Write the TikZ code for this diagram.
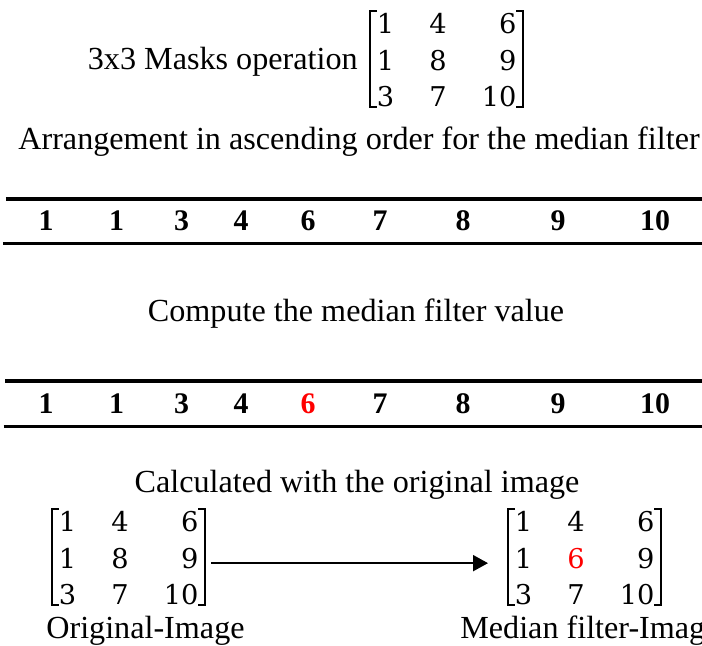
\documentclass[tikz,border=0pt]{standalone}
\usepackage{fontspec}
\setmainfont{Liberation Serif}
\newfontfamily\matfont{DejaVu Serif}
\usepackage{tikz}
\usetikzlibrary{arrows.meta}

% 3x3 pixel block, last column flush right
\newcommand{\pixtab}[3]{\begin{tabular}[b]{@{}lcr@{}}#1\\#2\\#3\end{tabular}}
\setlength{\tabcolsep}{10pt}
% square brackets round a block node
\newcommand{\brackets}[1]{%
  \draw[brk] ([xshift=0.14cm]#1.north west) -- (#1.north west) -- (#1.south west) -- ([xshift=0.14cm]#1.south west);
  \draw[brk] ([xshift=-0.14cm]#1.north east) -- (#1.north east) -- (#1.south east) -- ([xshift=-0.14cm]#1.south east);}

\tikzset{
  num/.style={anchor=base, font=\fontsize{17}{20}\selectfont\bfseries},
  rule/.style={line width=2pt},
  pix/.style={anchor=south west, font=\matfont\fontsize{15.5}{20.7}\selectfont,
    text height=1.9cm, text depth=0pt, inner xsep=0.13cm, inner ysep=0pt},
  brk/.style={line width=1pt},
}

\begin{document}
\begin{tikzpicture}[font=\fontsize{18.3}{22}\selectfont, inner sep=0pt]
\useasboundingbox (0,0) rectangle (14.04,12.9);

% the mask
\node[anchor=base east] (masklbl) at (7.16,11.5) {3x3 Masks operation};
\node[pix] (mask) at (7.40,10.76) {\pixtab{1&4&6}{1&8&9}{3&7&10}};
\brackets{mask}
\node[anchor=base] (sortlbl) at (7.18,9.9) {Arrangement in ascending order for the median filter};

% sorted values
\draw[rule] (0.12,8.92) -- (14.04,8.92);
\draw[rule] (0.06,8.03) -- (14.04,8.03);
\foreach \v/\x [count=\i] in {1/0.92,1/2.33,3/3.63,4/4.82,6/6.16,7/7.60,8/9.26,9/11.16,10/13.1}
  \node[num] (sorted\i) at (\x,8.28) {\bf \v};

\node[anchor=base] (medlbl) at (7.12,6.48) {Compute the median filter value};

% sorted values, middle one picked
\draw[rule] (0.10,5.28) -- (14.04,5.28);
\draw[rule] (0.07,4.37) -- (14.04,4.37);
\foreach \v/\x/\c [count=\i] in {1/0.92/black,1/2.33/black,3/3.63/black,4/4.82/black,6/6.16/red,7/7.60/black,8/9.26/black,9/11.16/black,10/13.1/black}
  \node[num,text=\c] (median\i) at (\x,4.63) {\bf \v};

\node[anchor=base] (calclbl) at (7.14,3.06) {Calculated with the original image};

% before and after
\node[pix] (orig) at (1.04,0.80) {\pixtab{1&4&6}{1&8&9}{3&7&10}};
\brackets{orig}
\node[pix] (filt) at (10.16,0.80) {\pixtab{1&4&6}{1&\color{red}6&9}{3&7&10}};
\brackets{filt}
\draw[line width=1.1pt,-{Triangle[length=0.3cm,width=0.32cm]},shorten <=0.12cm,shorten >=0.4cm]
  ([yshift=-0.12cm]orig.east) -- ([yshift=-0.12cm]filt.west);

\node[anchor=base west] (origlbl) at (0.92,0.14) {Original-Image};
\node[anchor=base west] (filtlbl) at (9.2,0.14) {Median filter-Image};
\end{tikzpicture}
\end{document}
